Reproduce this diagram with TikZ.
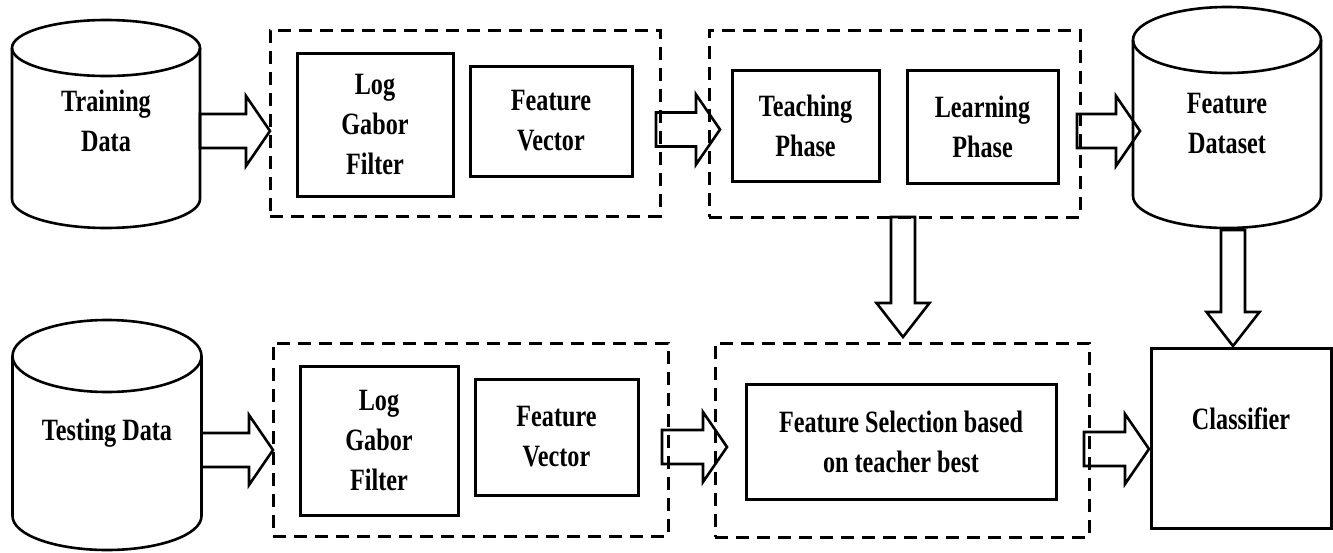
\documentclass[tikz,border=0pt]{standalone}
\usepackage{fontspec}
\setmainfont{Liberation Serif}[FakeStretch=0.78]
\usetikzlibrary{calc}
\begin{document}
\begin{tikzpicture}[x=1pt,y=-1pt,
  every node/.style={font=\fontsize{31}{40}\selectfont\bfseries, align=center, inner sep=0pt, outer sep=0pt},
  sbox/.style={draw, line width=3pt},
  dbox/.style={draw, line width=3pt, dash pattern=on 13pt off 8pt},
  ghost/.style={draw=none},
  cyl/.style={line width=2.6pt},
  harrow/.style={line width=2.6pt, to path={let \p1=(\tikztostart), \p2=(\tikztotarget) in
     (\x1,\y1+17pt) -- (\x2-24pt,\y1+17pt) -- (\x2-24pt,\y1+35pt) -- (\x2,\y1) --
     (\x2-24pt,\y1-35pt) -- (\x2-24pt,\y1-17pt) -- (\x1,\y1-17pt) -- cycle}},
  varrow/.style={line width=2.6pt, to path={let \p1=(\tikztostart), \p2=(\tikztotarget) in
     (\x1-12pt,\y1) -- (\x1-12pt,\y2+34pt) -- (\x1-26.5pt,\y2+34pt) -- (\x1,\y2) --
     (\x1+26.5pt,\y2+34pt) -- (\x1+12pt,\y2+34pt) -- (\x1+12pt,\y1) -- cycle}}
]
\useasboundingbox (0,0) rectangle (1333,552);

% ---------- cylinders ----------
% Training Data
\draw[cyl] (106,48) ellipse[x radius=94, y radius=28];
\draw[cyl] (12,48) -- (12,199) arc[start angle=180, end angle=0, x radius=94, y radius=29] -- (200,48);
\node[ghost, minimum width=188pt, minimum height=208pt] (tdc) at (106,124) {};
\node (td) at (106,121) {Training\\Data};

% Feature Dataset
\draw[cyl] (1227,40) ellipse[x radius=94, y radius=33];
\draw[cyl] (1133,40) -- (1133,196) arc[start angle=180, end angle=0, x radius=94, y radius=32] -- (1321,40);
\node[ghost, minimum width=188pt, minimum height=221pt] (fdc) at (1227,117.5) {};
\node (fd) at (1227,123) {Feature\\Dataset};

% Testing Data
\draw[cyl] (107,356) ellipse[x radius=94.5, y radius=36];
\draw[cyl] (12.5,356) -- (12.5,516) arc[start angle=180, end angle=0, x radius=94.5, y radius=34] -- (201.5,356);
\node[ghost, minimum width=189pt, minimum height=230pt] (tsdc) at (107,435) {};
\node (tsd) at (107,433) {Testing Data};

% ---------- dashed groups ----------
\node[dbox, minimum width=390pt, minimum height=186pt] (g1) at (465,123) {};
\node[dbox, minimum width=371pt, minimum height=187pt] (g2) at (894.5,123.5) {};
\node[dbox, minimum width=395pt, minimum height=193pt] (g3) at (470.5,439.5) {};
\node[dbox, minimum width=374pt, minimum height=194pt] (g4) at (902,440) {};

% ---------- solid boxes ----------
\node[sbox, minimum width=156pt, minimum height=143pt] (lg1) at (375,124.5) {Log\\Gabor\\Filter};
\node[sbox, minimum width=162pt, minimum height=110pt] (fv1) at (551,121) {Feature\\Vector};
\node[sbox, minimum width=147pt, minimum height=111pt] (tp) at (805.5,125.5) {Teaching\\Phase};
\node[sbox, minimum width=151pt, minimum height=113pt] (lp) at (982.5,126.5) {Learning\\Phase};
\node[sbox, minimum width=158pt, minimum height=149pt] (lg2) at (379,440.5) {Log\\Gabor\\Filter};
\node[sbox, minimum width=163pt, minimum height=116pt] (fv2) at (556.5,437) {Feature\\Vector};
\node[sbox, minimum width=310pt, minimum height=115pt] (fs) at (901,441.5) {Feature Selection based\\on teacher best};
\node[sbox, minimum width=180pt, minimum height=180pt] (cl) at (1241,438) {};
\node (clt) at (1241,419) {Classifier};

% ---------- block arrows ----------
\coordinate (ra1) at (0,131);
\coordinate (ra2) at (0,129.5);
\coordinate (ra3) at (0,131);
\coordinate (ra4) at (0,450);
\coordinate (ra5) at (0,447);
\coordinate (ra6) at (0,449);
\coordinate (cv1) at (903,0);
\coordinate (cv2) at (1233,0);

\draw[harrow] (tdc.east |- ra1) to (g1.west |- ra1);
\draw[harrow] ($(g1.east |- ra2)+(-4,0)$) to ($(g2.west |- ra2)+(11,0)$);
\draw[harrow] ($(g2.east |- ra3)+(-3,0)$) to ($(fdc.west |- ra3)+(7,0)$);
\draw[harrow] (tsdc.east |- ra4) to (g3.west |- ra4);
\draw[harrow] ($(g3.east |- ra5)+(-6,0)$) to ($(g4.west |- ra5)+(12,0)$);
\draw[harrow] ($(g4.east |- ra6)+(-5,0)$) to ($(cl.west |- ra6)+(-2,0)$);
\draw[varrow] (g2.south -| cv1) to ($(g4.north -| cv1)+(0,-6)$);
\draw[varrow] ($(fdc.south -| cv2)+(0,2)$) to ($(cl.north -| cv2)+(0,-2)$);
\end{tikzpicture}
\end{document}
